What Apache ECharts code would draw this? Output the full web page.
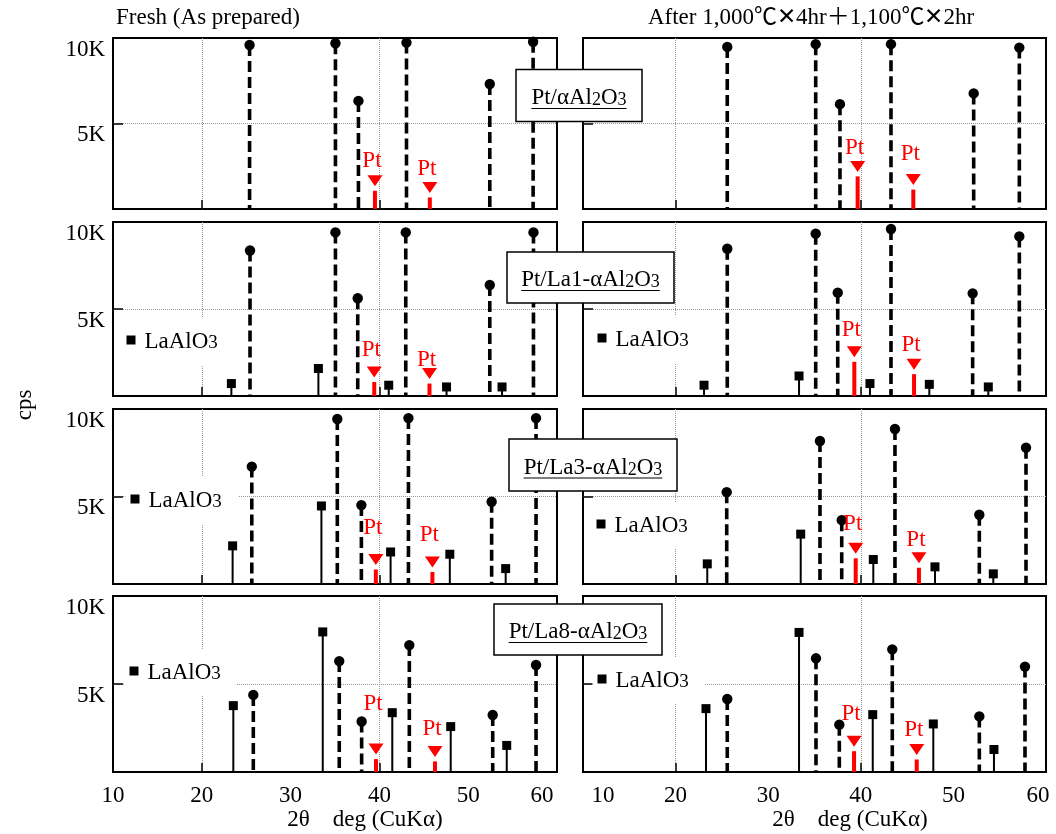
<!DOCTYPE html>
<html><head><meta charset="utf-8">
<script src="https://cdn.jsdelivr.net/npm/echarts@6/dist/echarts.min.js"></script>
<style>html,body{margin:0;padding:0;background:#fff}#c{width:1056px;height:834px}</style>
</head><body><div id="c"></div>
<script>
// ================= DATA =================
const xTickValues = [10, 20, 30, 40, 50, 60];
const yLabelValues = [5000, 10000];
const yTickText = { 5000: '5K', 10000: '10K' };
const xGridValues = [20, 40];
const yGridValues = [5000];
const columnTitles = ['Fresh (As prepared)', 'After 1,000℃✕4hr＋1,100℃✕2hr'];
const sampleNames = ['Pt/αAl2O3', 'Pt/La1-αAl2O3', 'Pt/La3-αAl2O3', 'Pt/La8-αAl2O3'];
const xAxisName = '2θ    deg (CuKα)';
const yAxisName = 'cps';
const laName = 'LaAlO3';

// peaks: [2θ (deg), intensity (cps)]
const alFresh1 = [[25.38,9590],[35.05,9690],[37.64,6320],[43.05,9730],[52.43,7310],[57.31,9780]];
const ptFresh1 = [[39.50,1650],[45.68,1260]];
const alAged1  = [[25.58,9480],[35.13,9640],[37.75,6130],[43.26,9640],[52.19,6760],[57.12,9440]];
const ptAged1  = [[39.66,2490],[45.67,1720]];

const laFresh2 = [[23.33,715],[33.13,1580],[41.05,620],[47.56,520],[53.81,520]];
const alFresh2 = [[25.43,8360],[35.05,9400],[37.56,5620],[42.97,9400],[52.43,6380],[57.35,9400]];
const ptFresh2 = [[39.42,1380],[45.64,1290]];
const laAged2  = [[23.07,620],[33.33,1150],[40.99,715],[47.40,670],[53.77,520]];
const alAged2  = [[25.58,8460],[35.13,9330],[37.51,5940],[43.26,9600],[52.08,5900],[57.12,9170]];
const ptAged2  = [[39.30,2540],[45.75,1830]];

const laFresh3 = [[23.47,2180],[33.47,4460],[41.26,1830],[47.93,1700],[54.22,880]];
const alFresh3 = [[25.63,6710],[35.26,9430],[37.97,4510],[43.27,9480],[52.64,4700],[57.64,9480]];
const ptFresh3 = [[39.60,1400],[45.97,1260]];
const laAged3  = [[23.42,1150],[33.51,2850],[41.35,1400],[48.01,980],[54.31,580]];
const alAged3  = [[25.52,5250],[35.59,8170],[37.94,3650],[43.69,8860],[52.80,3960],[57.84,7790]];
const ptAged3  = [[39.45,2040],[46.28,1500]];

const laFresh4 = [[23.55,3770],[33.62,7960],[41.45,3370],[48.03,2580],[54.34,1510]];
const alFresh4 = [[25.80,4380],[35.48,6300],[38.00,2870],[43.37,7210],[52.76,3240],[57.64,6080]];
const ptFresh4 = [[39.62,1300],[46.26,1170]];
const laAged4  = [[23.28,3600],[33.33,7930],[41.29,3260],[47.83,2730],[54.38,1280]];
const alAged4  = [[25.58,4150],[35.16,6460],[37.68,2690],[43.40,6970],[52.80,3160],[57.73,5990]];
const ptAged4  = [[39.27,1750],[46.04,1280]];

// ================= LAYOUT =================
const FONT = '"Liberation Serif", "Times New Roman", "Noto Sans CJK JP", serif';
const FS = 23;
const COLS = [{left:113, width:444}, {left:583, width:463}];
const ROWS = [{top:38, height:171}, {top:222, height:174}, {top:409, height:175}, {top:596, height:176}];
// pixel lift of each "Pt" label above its triangle, per panel [row][col]
const ptLabelLift = [
  [[20,19],[18,26]],
  [[22,14],[22,19]],
  [[32,27],[24,18]],
  [[45,22],[27,20]]
];
// legend anchors: [row, col, square centre x, centre y]
const legendAnchors = [[1,0,131,343],[1,1,602,341],[2,0,135,502],[2,1,601,527],[3,0,134,674],[3,1,602,682]];
// sample-name boxes: [centre x, centre y, width, height]
const boxLayout = [[579,95.5,126,52],[590.5,277.5,167,51],[593,465,168,52],[578,629.5,168,51]];

const panels = [
  [ {al:alFresh1, la:null, pt:ptFresh1}, {al:alAged1, la:null, pt:ptAged1} ],
  [ {al:alFresh2, la:laFresh2, pt:ptFresh2}, {al:alAged2, la:laAged2, pt:ptAged2} ],
  [ {al:alFresh3, la:laFresh3, pt:ptFresh3}, {al:alAged3, la:laAged3, pt:ptAged3} ],
  [ {al:alFresh4, la:laFresh4, pt:ptFresh4}, {al:alAged4, la:laAged4, pt:ptAged4} ]
];

// ================= RENDERERS =================
function renderAl(params, api) {
  const p = api.coord([api.value(0), api.value(1)]);
  const b = api.coord([api.value(0), 0]);
  return {type:'group', children:[
    {type:'line', shape:{x1:p[0], y1:p[1], x2:b[0], y2:b[1]}, style:{stroke:'#000', lineWidth:3.6, lineDash:[11,5]}},
    {type:'circle', shape:{cx:p[0], cy:p[1], r:5.2}, style:{fill:'#000'}}
  ]};
}
function renderLa(params, api) {
  const p = api.coord([api.value(0), api.value(1)]);
  const b = api.coord([api.value(0), 0]);
  return {type:'group', children:[
    {type:'line', shape:{x1:p[0], y1:p[1], x2:b[0], y2:b[1]}, style:{stroke:'#000', lineWidth:2}},
    {type:'rect', shape:{x:p[0]-4.5, y:p[1]-4.5, width:9, height:9}, style:{fill:'#000'}}
  ]};
}
function makeRenderPt(lifts) {
  return function(params, api) {
    const p = api.coord([api.value(0), api.value(1)]);
    const b = api.coord([api.value(0), 0]);
    const lift = lifts[params.dataIndex];
    return {type:'group', children:[
      {type:'line', shape:{x1:b[0], y1:b[1], x2:p[0], y2:p[1]+10}, style:{stroke:'#ff0000', lineWidth:4}},
      {type:'polygon', shape:{points:[[p[0]-7.5,p[1]-5.5],[p[0]+7.5,p[1]-5.5],[p[0],p[1]+5.5]]}, style:{fill:'#ff0000'}},
      {type:'text', x:p[0]-3, y:p[1]-lift, style:{text:'Pt', fill:'#ff0000', fontSize:FS, fontFamily:FONT, align:'center', verticalAlign:'middle'}}
    ]};
  };
}

// ================= BUILD OPTION =================
const grids = [], xAxes = [], yAxes = [], series = [];
let gi = 0;
for (let r = 0; r < 4; r++) {
  for (let c = 0; c < 2; c++) {
    grids.push({left:COLS[c].left, width:COLS[c].width, top:ROWS[r].top, height:ROWS[r].height,
      show:true, borderColor:'#000', borderWidth:2, backgroundColor:'transparent', containLabel:false, outerBoundsMode:'none'});
    const bottom = r === 3;
    xAxes.push({type:'value', gridIndex:gi, min:10, max:60, interval:10,
      axisLine:{show:false},
      axisTick:{show:true, inside:true, length:9, customValues:xGridValues, lineStyle:{color:'#000', width:1.5}},
      splitLine:{show:true, lineStyle:{color:'#9a9a9a', type:'dotted', width:1}},
      axisLabel:{show:bottom, margin:12, color:'#000', fontSize:FS, fontFamily:FONT,
        customValues:xTickValues,
        formatter: v => (c===1 && v===10) ? '{a|'+v+'}' : (v===60 ? '{' + (c===0 ? 'b' : 'd') + '|'+v+'}' : String(v)),
        rich:{a:{fontSize:FS, fontFamily:FONT, color:'#000', padding:[0,0,0,40]},
              b:{fontSize:FS, fontFamily:FONT, color:'#000', padding:[0,30,0,0]},
              d:{fontSize:FS, fontFamily:FONT, color:'#000', padding:[0,16,0,0]}}}
    });
    yAxes.push({type:'value', gridIndex:gi, min:0, max:10000, interval:5000,
      axisLine:{show:false},
      axisTick:{show:true, inside:true, length:10, customValues:yGridValues, lineStyle:{color:'#000', width:1.5}},
      splitLine:{show:true, lineStyle:{color:'#9a9a9a', type:'dotted', width:1}},
      axisLabel:{show:c===0, margin:8, color:'#000', fontSize:FS, fontFamily:FONT, verticalAlign:'top',
        customValues:yLabelValues, formatter: v => yTickText[v] || ''}
    });
    const P = panels[r][c];
    series.push({type:'custom', name:'Al2O3', xAxisIndex:gi, yAxisIndex:gi, clip:false,
      encode:{x:0, y:1}, data:P.al, renderItem:renderAl, z:3});
    if (P.la) series.push({type:'custom', name:laName, xAxisIndex:gi, yAxisIndex:gi, clip:false,
      itemStyle:{color:'#000'}, encode:{x:0, y:1}, data:P.la, renderItem:renderLa, z:3});
    series.push({type:'custom', name:'Pt', xAxisIndex:gi, yAxisIndex:gi, clip:false,
      encode:{x:0, y:1}, data:P.pt, renderItem:makeRenderPt(ptLabelLift[r][c]), z:4});
    gi++;
  }
}

const legends = legendAnchors.map(a => ({
  left: a[2] - 4.5 - 5, top: a[3] - 13 - 12, padding:[12,16,12,5], backgroundColor:'#fff',
  orient:'horizontal', itemWidth:9, itemHeight:9, selectedMode:false, z:6,
  data:[{name:laName, icon:'rect', itemStyle:{color:'#000'}}],
  formatter: () => '{m|LaAlO}{s|3}',
  textStyle:{color:'#000', fontFamily:FONT, fontSize:FS, padding:[0,0,0,4],
    rich:{m:{fontSize:FS, fontFamily:FONT, color:'#000', lineHeight:26, verticalAlign:'bottom'},
          s:{fontSize:19, fontFamily:FONT, color:'#000', lineHeight:20, verticalAlign:'bottom'}}}
}));

// measure text for underline
const mctx = document.createElement('canvas').getContext('2d');
function tw(t, size) { mctx.font = size + 'px "Liberation Serif"'; return mctx.measureText(t).width; }
const graphics = [];
sampleNames.forEach((name, i) => {
  const [cx, cy, w, h] = boxLayout[i];
  const idx = name.indexOf('Al2O3');
  const prefix = name.slice(0, idx);
  const rich = '{m|' + prefix + 'Al}{s|2}{m|O}{s|3}';
  const textW = tw(prefix + 'AlO', FS) + tw('23', 18);
  graphics.push({type:'group', x:cx - w/2, y:cy - h/2, z:100, children:[
    {type:'rect', z:100, shape:{x:0, y:0, width:w, height:h}, style:{fill:'#fff', stroke:'#000', lineWidth:1.5}},
    {type:'text', z:101, x:w/2, y:h/2 + 1, style:{text:rich, align:'center', verticalAlign:'middle',
      rich:{m:{fontSize:FS, fontFamily:FONT, fill:'#000', lineHeight:26, verticalAlign:'bottom'},
            s:{fontSize:18, fontFamily:FONT, fill:'#000', lineHeight:19, verticalAlign:'bottom'}}}},
    {type:'line', z:101, shape:{x1:w/2 - textW/2, y1:h/2 + 13, x2:w/2 + textW/2, y2:h/2 + 13}, style:{stroke:'#000', lineWidth:1.2}}
  ]});
});
graphics.push({type:'text', x:116, y:18, z:100, style:{text:columnTitles[0], fontSize:FS, fontFamily:FONT, fill:'#000', verticalAlign:'middle'}});
graphics.push({type:'text', x:811, y:18, z:100, style:{text:columnTitles[1], fontSize:FS, fontFamily:FONT, fill:'#000', align:'center', verticalAlign:'middle'}});
graphics.push({type:'text', x:25, y:405, rotation:Math.PI/2, z:100, style:{text:yAxisName, fontSize:FS, fontFamily:FONT, fill:'#000', align:'center', verticalAlign:'middle'}});
graphics.push({type:'text', x:365, y:820, z:100, style:{text:xAxisName, fontSize:FS, fontFamily:FONT, fill:'#000', align:'center', verticalAlign:'middle'}});
graphics.push({type:'text', x:850, y:820, z:100, style:{text:xAxisName, fontSize:FS, fontFamily:FONT, fill:'#000', align:'center', verticalAlign:'middle'}});

const option = {
  animation:false,
  backgroundColor:'#fff',
  textStyle:{fontFamily:FONT},
  grid:grids, xAxis:xAxes, yAxis:yAxes, series:series,
  legend:legends,
  graphic:graphics
};
const chart = echarts.init(document.getElementById('c'));
chart.setOption(option);
</script>
</body></html>
